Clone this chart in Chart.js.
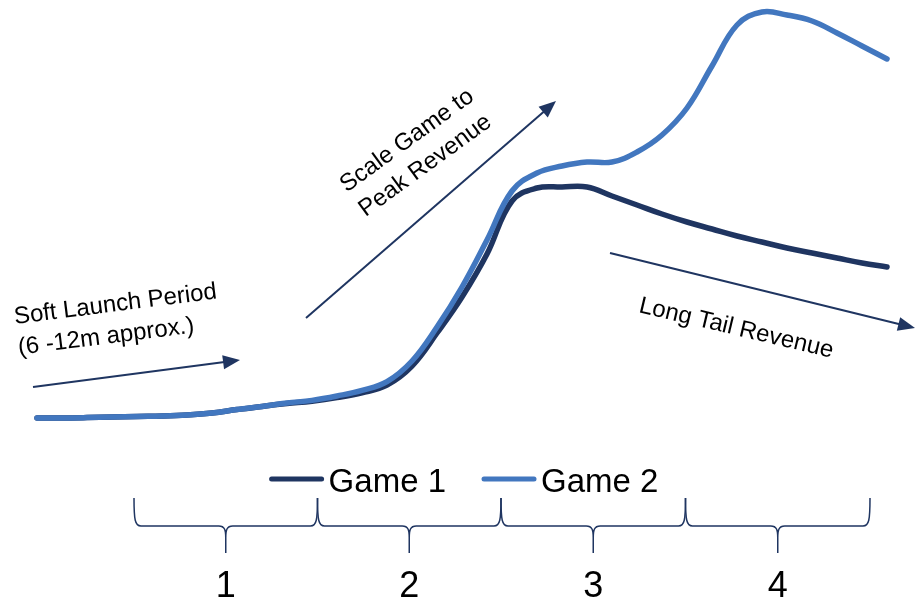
<!DOCTYPE html>
<html>
<head>
<meta charset="utf-8">
<script src="https://cdn.jsdelivr.net/npm/chart.js@4"></script>
<style>
  html, body { margin: 0; padding: 0; background: #ffffff; }
  canvas { display: block; }
</style>
</head>
<body>
<canvas id="lifecycle" width="915" height="598"></canvas>
<script>
// Months since soft launch
const months = [0, 1, 2, 3, 4, 5, 6, 7, 8, 9, 10, 11, 12, 13, 14, 15, 16, 17, 18, 19, 20,
                21, 22, 23, 24, 25, 26, 27, 28, 29, 30, 31, 32, 33, 34];

// Relative revenue per month
const game1Revenue = [0.5, 0.5, 0.6, 0.75, 0.9, 1.0, 1.25, 1.75, 2.6, 3.4, 4.1, 4.7, 5.6, 6.8, 8.75,
                      13.5, 21.75, 30.75, 41.5, 54.75, 58, 58.25, 58.25, 56, 53.75, 51.5, 49.5,
                      47.75, 46, 44.5, 43, 41.75, 40.5, 39.25, 38.25];
const game2Revenue = [0.5, 0.5, 0.6, 0.75, 0.9, 1.0, 1.25, 1.75, 2.6, 3.4, 4.25, 4.9, 6, 7.4, 9.6,
                      14.75, 23.25, 33.25, 45, 57.25, 61.75, 63.5, 64.5, 64.5, 67, 71.25, 78,
                      88.5, 98.75, 102, 101.25, 99.75, 96.75, 93.5, 90.25];

const seriesNames = ['Game 1', 'Game 2'];

// Lifecycle phases: labels and their month boundaries
const phaseLabels = ['1', '2', '3', '4'];
const phaseEdges = [3.88, 11.22, 18.56, 25.94, 33.32];

// Call-out arrows and captions, in (month, revenue) units
const arrowStarts = [[-0.16, 8.25], [10.76, 25.5], [22.92, 41.75]];
const arrowEnds = [[8.12, 15], [20.76, 79.75], [35.12, 23]];
const captionLines = [['Soft Launch Period', '(6 -12m approx.)'], ['Scale Game to', 'Peak Revenue'], ['Long Tail Revenue']];
const captionAnchors = [[-0.88, 24], [14.96, 68.5], [24.04, 27]];

const NAVY = '#1f3561';
const BLUE = '#4277bf';
const FONT = '"Liberation Sans", Arial, sans-serif';

const captionStyle = [
  { angle: -7.2, align: 'left' },
  { angle: -36, align: 'center' },
  { angle: 13.3, align: 'left' }
];

function drawArrow(ctx, x1, y1, x2, y2) {
  const a = Math.atan2(y2 - y1, x2 - x1);
  const headLen = 17, headHalf = 7;
  ctx.save();
  ctx.strokeStyle = NAVY;
  ctx.fillStyle = NAVY;
  ctx.lineWidth = 2;
  ctx.beginPath();
  ctx.moveTo(x1, y1);
  ctx.lineTo(x2 - Math.cos(a) * headLen * 0.8, y2 - Math.sin(a) * headLen * 0.8);
  ctx.stroke();
  ctx.translate(x2, y2);
  ctx.rotate(a);
  ctx.beginPath();
  ctx.moveTo(0, 0);
  ctx.lineTo(-headLen, -headHalf);
  ctx.lineTo(-headLen, headHalf);
  ctx.closePath();
  ctx.fill();
  ctx.restore();
}

function drawBrace(ctx, a, b, top, line, tip) {
  const m = (a + b) / 2;
  const r = 7;
  ctx.beginPath();
  ctx.moveTo(a, top);
  ctx.bezierCurveTo(a, line - 6, a + 1, line, a + r, line);
  ctx.lineTo(m - r, line);
  ctx.bezierCurveTo(m - 1, line, m, line + 4, m, line + 12);
  ctx.lineTo(m, tip);
  ctx.moveTo(m, line + 12);
  ctx.bezierCurveTo(m, line + 4, m + 1, line, m + r, line);
  ctx.lineTo(b - r, line);
  ctx.bezierCurveTo(b - 1, line, b, line - 6, b, top);
  ctx.stroke();
}

const decorations = {
  id: 'lifecycleDecorations',
  afterDraw(chart) {
    const { ctx, chartArea, scales } = chart;
    const xs = scales.x, ys = scales.y;
    const px = v => xs.getPixelForValue(v);
    const py = v => ys.getPixelForValue(v);
    const base = chartArea.bottom;

    // Arrows
    arrowStarts.forEach((s, i) => {
      const e = arrowEnds[i];
      drawArrow(ctx, px(s[0]), py(s[1]), px(e[0]), py(e[1]));
    });

    // Rotated captions
    ctx.save();
    ctx.fillStyle = '#000000';
    ctx.font = `24px ${FONT}`;
    ctx.textBaseline = 'alphabetic';
    captionLines.forEach((lines, i) => {
      const [ax, ay] = captionAnchors[i];
      const st = captionStyle[i];
      ctx.save();
      ctx.translate(px(ax), py(ay));
      ctx.rotate(st.angle * Math.PI / 180);
      ctx.textAlign = st.align;
      lines.forEach((t, k) => ctx.fillText(t, 0, k * 31));
      ctx.restore();
    });
    ctx.restore();

    // Legend
    ctx.save();
    ctx.font = `33px ${FONT}`;
    ctx.textBaseline = 'alphabetic';
    ctx.textAlign = 'left';
    const sampleLen = 52, gap = 7, itemGap = 36;
    const colors = [NAVY, BLUE];
    const widths = seriesNames.map(n => sampleLen + gap + ctx.measureText(n).width);
    const total = widths.reduce((s, w) => s + w, 0) + itemGap * (widths.length - 1);
    let lx = (chartArea.left + chartArea.right) / 2 - total / 2 + 2;
    const lineY = base + 59, textY = base + 72;
    seriesNames.forEach((n, i) => {
      ctx.strokeStyle = colors[i];
      ctx.lineWidth = 5;
      ctx.lineCap = 'round';
      ctx.beginPath();
      ctx.moveTo(lx + 2, lineY);
      ctx.lineTo(lx + sampleLen, lineY);
      ctx.stroke();
      ctx.fillStyle = '#000000';
      ctx.fillText(n, lx + sampleLen + gap, textY);
      lx += widths[i] + itemGap;
    });
    ctx.restore();

    // Phase braces and numbers
    ctx.save();
    ctx.strokeStyle = NAVY;
    ctx.lineWidth = 1.5;
    ctx.fillStyle = '#000000';
    ctx.font = `36px ${FONT}`;
    ctx.textAlign = 'center';
    ctx.textBaseline = 'alphabetic';
    phaseLabels.forEach((lab, i) => {
      const a = px(phaseEdges[i]), b = px(phaseEdges[i + 1]);
      drawBrace(ctx, a, b, base + 78, base + 106, base + 133);
      ctx.fillText(lab, (a + b) / 2, base + 177);
    });
    ctx.restore();
  }
};

new Chart(document.getElementById('lifecycle'), {
  type: 'line',
  data: {
    datasets: [
      {
        label: seriesNames[0],
        data: months.map((m, i) => ({ x: m, y: game1Revenue[i] })),
        borderColor: NAVY,
        order: 1
      },
      {
        label: seriesNames[1],
        data: months.map((m, i) => ({ x: m, y: game2Revenue[i] })),
        borderColor: BLUE,
        order: 0
      }
    ]
  },
  options: {
    responsive: false,
    animation: false,
    events: [],
    layout: { padding: { left: 37, right: 28, top: 0, bottom: 178 } },
    elements: {
      line: {
        borderWidth: 5.5,
        borderCapStyle: 'round',
        borderJoinStyle: 'round',
        tension: 0.4,
        fill: false
      },
      point: { radius: 0, hoverRadius: 0 }
    },
    datasets: { line: { clip: false } },
    scales: {
      x: { type: 'linear', min: 0, max: 34, display: false },
      y: { type: 'linear', min: 0, max: 105, display: false }
    },
    plugins: {
      legend: { display: false },
      tooltip: { enabled: false }
    }
  },
  plugins: [decorations]
});
</script>
</body>
</html>
